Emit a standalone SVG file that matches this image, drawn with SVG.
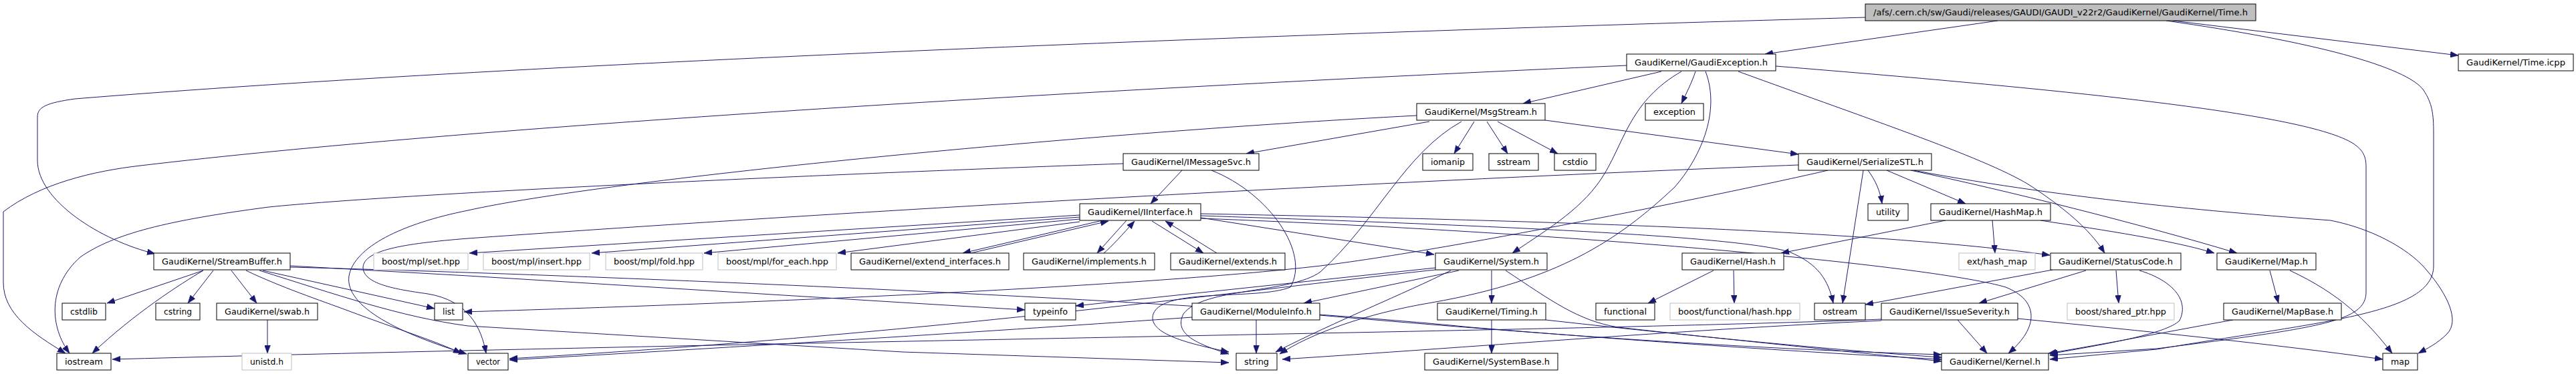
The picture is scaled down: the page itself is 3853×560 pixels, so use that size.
<svg xmlns="http://www.w3.org/2000/svg" width="3853" height="560" viewBox="0 0 3853 560">
<style>
.n rect{fill:#fff;stroke:#000;stroke-width:1}
.n.g rect{stroke:#bfbfbf}
.n.root rect{fill:#bfbfbf}
text{font-family:"DejaVu Sans","Liberation Sans",sans-serif;font-size:13px;fill:#000;text-anchor:middle}
#edges path{fill:none;stroke:#191970;stroke-width:1;marker-end:url(#a)}
</style>
<defs>
<marker id="a" markerWidth="12" markerHeight="9" refX="12" refY="4.5" orient="auto" markerUnits="userSpaceOnUse"><path d="M0,0L12,4.5L0,9z" fill="#191970" stroke="#191970" stroke-width="0.5"/></marker>
</defs>
<rect width="3853" height="560" fill="#fff"/>
<g id="edges">
<path d="M2988,31L2640,81"/>
<path d="M3250,31L3677,83"/>
<path d="M3240,31C3460,62 3600,100 3625,135C3638,155 3640,170 3640,200L3640,398C3640,470 3480,480 3226,523L3066,538"/>
<path d="M2790,26C2000,48 800,92 112,148C70,154 56,160 56,175L56,240C56,300 150,360 232,380"/>
<path d="M2433,98C1600,135 700,190 210,248C140,256 60,275 5,317L5,423C5,470 50,500 98,529"/>
<path d="M2485,107L2278,155"/>
<path d="M2536,107C2530,125 2522,140 2515,155"/>
<path d="M2515,107C2440,150 2430,210 2400,260C2370,310 2320,340 2262,379"/>
<path d="M2551,107C2575,170 2540,240 2505,280C2420,360 2330,420 2142,453C2040,470 1960,500 1914,530"/>
<path d="M2600,107C2800,180 2980,240 3040,280C3100,320 3130,350 3148,379"/>
<path d="M2656,99C3100,135 3450,170 3520,215C3535,225 3539,235 3539,250L3539,437C3539,480 3480,490 3226,522L3066,532"/>
<path d="M2138,182L1864,230"/>
<path d="M2311,180L2690,231"/>
<path d="M2205,182L2175,230"/>
<path d="M2224,182L2255,230"/>
<path d="M2240,182L2330,230"/>
<path d="M2186,182C2100,230 2060,330 1975,407C1930,440 1800,430 1770,470C1755,500 1790,515 1838,530"/>
<path d="M2119,173C1600,200 900,270 700,315C600,335 530,370 522,413C515,460 600,500 698,530"/>
<path d="M1768,255L1721,305"/>
<path d="M1680,245C1200,262 600,290 402,310C250,330 170,350 120,385C70,430 75,490 104,529"/>
<path d="M1812,255C1900,290 1960,380 1930,430C1880,450 1740,430 1725,470C1715,500 1780,515 1838,527"/>
<path d="M1615,322L702,379"/>
<path d="M1615,325L885,379"/>
<path d="M1615,328L1053,379"/>
<path d="M1615,332L1253,379"/>
<path d="M1649,330L1440,379"/>
<path d="M1452,379L1658,331"/>
<path d="M1685,330L1641,379"/>
<path d="M1651,379C1662,370 1680,350 1697,331"/>
<path d="M1723,331L1800,379"/>
<path d="M1820,379L1743,331"/>
<path d="M1796,326L2145,381"/>
<path d="M1796,320C2300,330 2800,345 3066,382"/>
<path d="M1796,323C2300,340 2600,355 2676,377C2720,395 2735,420 2742,454"/>
<path d="M1796,327C2400,350 2900,400 3000,430C3050,450 3050,490 3004,529"/>
<path d="M304,405L160,454"/>
<path d="M304,405C270,425 200,470 138,529"/>
<path d="M319,405L281,454"/>
<path d="M346,405L384,454"/>
<path d="M393,405L650,462"/>
<path d="M368,405C420,430 480,450 520,465C600,495 650,510 690,529"/>
<path d="M388,405C500,440 600,475 700,488L1350,527L1838,543"/>
<path d="M434,398L700,413L1350,453L1533,464"/>
<path d="M434,400C900,412 1800,450 2200,490C2500,515 2750,530 2904,538"/>
<path d="M400,479L400,529"/>
<path d="M2231,405L2231,454"/>
<path d="M2252,405C2320,450 2360,480 2420,490C2600,510 2800,530 2904,541"/>
<path d="M2170,405C2100,440 2000,480 1908,527"/>
<path d="M2147,401L1609,458"/>
<path d="M2147,404C1900,430 1400,500 762,537"/>
<path d="M2182,405L1950,454"/>
<path d="M2231,479L2231,529"/>
<path d="M2312,479C2500,500 2750,525 2904,535"/>
<path d="M1879,479L1879,529"/>
<path d="M1783,475C1500,495 1100,520 762,539"/>
<path d="M1974,472C2300,500 2600,522 2904,531"/>
<path d="M2787,255L2756,454"/>
<path d="M2794,255C2805,270 2812,285 2815,305"/>
<path d="M2822,255L2940,305"/>
<path d="M2858,255C3000,285 3200,335 3346,379"/>
<path d="M2862,255C3100,300 3350,320 3486,330C3560,345 3610,380 3630,405C3660,440 3680,480 3660,500C3645,515 3630,522 3617,529"/>
<path d="M2734,255C2650,275 2200,370 1975,398C1700,430 1100,455 694,467"/>
<path d="M2690,247C2300,262 1500,300 700,357C600,365 545,375 543,400C543,425 590,433 640,440C700,450 720,490 727,529"/>
<path d="M3052,330C3150,345 3250,360 3312,379"/>
<path d="M2910,330L2664,379"/>
<path d="M2980,330L2984,379"/>
<path d="M2563,405L2465,454"/>
<path d="M2593,405L2594,454"/>
<path d="M3070,404L2790,456"/>
<path d="M3120,405L2960,454"/>
<path d="M3165,405L3169,454"/>
<path d="M3200,405C3250,420 3275,450 3260,480C3240,500 3150,515 3066,530"/>
<path d="M2928,479L2972,529"/>
<path d="M2814,478C2400,495 1200,510 168,538"/>
<path d="M2814,480C2500,495 2200,520 1918,538"/>
<path d="M3018,477C3200,495 3400,515 3564,538"/>
<path d="M3395,405L3408,454"/>
<path d="M3425,405C3500,440 3540,480 3578,529"/>
<path d="M3340,479C3250,495 3150,515 3064,529"/>
</g>
<g id="n0" class="n root"><rect x="2790" y="6" width="584" height="25"/><text x="3082" y="23" textLength="560" lengthAdjust="spacingAndGlyphs">/afs/.cern.ch/sw/Gaudi/releases/GAUDI/GAUDI_v22r2/GaudiKernel/GaudiKernel/Time.h</text></g>
<g id="n1" class="n"><rect x="2433" y="81" width="223" height="25"/><text x="2544.5" y="98" textLength="199" lengthAdjust="spacingAndGlyphs">GaudiKernel/GaudiException.h</text></g>
<g id="n2" class="n"><rect x="3677" y="81" width="172" height="25"/><text x="3763" y="98" textLength="148" lengthAdjust="spacingAndGlyphs">GaudiKernel/Time.icpp</text></g>
<g id="n3" class="n"><rect x="2119" y="155" width="192" height="25"/><text x="2215" y="172" textLength="168" lengthAdjust="spacingAndGlyphs">GaudiKernel/MsgStream.h</text></g>
<g id="n4" class="n"><rect x="2461" y="155" width="87" height="25"/><text x="2504.5" y="172" textLength="63" lengthAdjust="spacingAndGlyphs">exception</text></g>
<g id="n5" class="n"><rect x="1680" y="230" width="203" height="25"/><text x="1781.5" y="247" textLength="179" lengthAdjust="spacingAndGlyphs">GaudiKernel/IMessageSvc.h</text></g>
<g id="n6" class="n"><rect x="2128" y="230" width="75" height="25"/><text x="2165.5" y="247" textLength="51" lengthAdjust="spacingAndGlyphs">iomanip</text></g>
<g id="n7" class="n"><rect x="2227" y="230" width="74" height="25"/><text x="2264" y="247" textLength="50" lengthAdjust="spacingAndGlyphs">sstream</text></g>
<g id="n8" class="n"><rect x="2325" y="230" width="62" height="25"/><text x="2356" y="247" textLength="38" lengthAdjust="spacingAndGlyphs">cstdio</text></g>
<g id="n9" class="n"><rect x="2690" y="230" width="199" height="25"/><text x="2789.5" y="247" textLength="175" lengthAdjust="spacingAndGlyphs">GaudiKernel/SerializeSTL.h</text></g>
<g id="n10" class="n"><rect x="1615" y="305" width="181" height="25"/><text x="1705.5" y="322" textLength="157" lengthAdjust="spacingAndGlyphs">GaudiKernel/IInterface.h</text></g>
<g id="n11" class="n"><rect x="2794" y="305" width="60" height="25"/><text x="2824" y="322" textLength="36" lengthAdjust="spacingAndGlyphs">utility</text></g>
<g id="n12" class="n"><rect x="2888" y="305" width="179" height="25"/><text x="2977.5" y="322" textLength="155" lengthAdjust="spacingAndGlyphs">GaudiKernel/HashMap.h</text></g>
<g id="n13" class="n"><rect x="230" y="379" width="204" height="25"/><text x="332" y="396" textLength="180" lengthAdjust="spacingAndGlyphs">GaudiKernel/StreamBuffer.h</text></g>
<g id="n14" class="n g"><rect x="559" y="379" width="141" height="25"/><text x="629.5" y="396" textLength="117" lengthAdjust="spacingAndGlyphs">boost/mpl/set.hpp</text></g>
<g id="n15" class="n g"><rect x="723" y="379" width="159" height="25"/><text x="802.5" y="396" textLength="135" lengthAdjust="spacingAndGlyphs">boost/mpl/insert.hpp</text></g>
<g id="n16" class="n g"><rect x="906" y="379" width="145" height="25"/><text x="978.5" y="396" textLength="121" lengthAdjust="spacingAndGlyphs">boost/mpl/fold.hpp</text></g>
<g id="n17" class="n g"><rect x="1074" y="379" width="177" height="25"/><text x="1162.5" y="396" textLength="153" lengthAdjust="spacingAndGlyphs">boost/mpl/for_each.hpp</text></g>
<g id="n18" class="n"><rect x="1273" y="379" width="236" height="25"/><text x="1391" y="396" textLength="212" lengthAdjust="spacingAndGlyphs">GaudiKernel/extend_interfaces.h</text></g>
<g id="n19" class="n"><rect x="1531" y="379" width="196" height="25"/><text x="1629" y="396" textLength="172" lengthAdjust="spacingAndGlyphs">GaudiKernel/implements.h</text></g>
<g id="n20" class="n"><rect x="1751" y="379" width="171" height="25"/><text x="1836.5" y="396" textLength="147" lengthAdjust="spacingAndGlyphs">GaudiKernel/extends.h</text></g>
<g id="n21" class="n"><rect x="2147" y="379" width="167" height="25"/><text x="2230.5" y="396" textLength="143" lengthAdjust="spacingAndGlyphs">GaudiKernel/System.h</text></g>
<g id="n22" class="n"><rect x="2516" y="379" width="152" height="25"/><text x="2592" y="396" textLength="128" lengthAdjust="spacingAndGlyphs">GaudiKernel/Hash.h</text></g>
<g id="n23" class="n g"><rect x="2930" y="379" width="114" height="25"/><text x="2987" y="396" textLength="90" lengthAdjust="spacingAndGlyphs">ext/hash_map</text></g>
<g id="n24" class="n"><rect x="3067" y="379" width="195" height="25"/><text x="3164.5" y="396" textLength="171" lengthAdjust="spacingAndGlyphs">GaudiKernel/StatusCode.h</text></g>
<g id="n25" class="n"><rect x="3316" y="379" width="148" height="25"/><text x="3390" y="396" textLength="124" lengthAdjust="spacingAndGlyphs">GaudiKernel/Map.h</text></g>
<g id="n26" class="n"><rect x="93" y="454" width="65" height="25"/><text x="125.5" y="471" textLength="41" lengthAdjust="spacingAndGlyphs">cstdlib</text></g>
<g id="n27" class="n"><rect x="233" y="454" width="66" height="25"/><text x="266" y="471" textLength="42" lengthAdjust="spacingAndGlyphs">cstring</text></g>
<g id="n28" class="n"><rect x="324" y="454" width="151" height="25"/><text x="399.5" y="471" textLength="127" lengthAdjust="spacingAndGlyphs">GaudiKernel/swab.h</text></g>
<g id="n29" class="n"><rect x="650" y="454" width="42" height="25"/><text x="671" y="471" textLength="18" lengthAdjust="spacingAndGlyphs">list</text></g>
<g id="n30" class="n"><rect x="1533" y="454" width="76" height="25"/><text x="1571" y="471" textLength="52" lengthAdjust="spacingAndGlyphs">typeinfo</text></g>
<g id="n31" class="n"><rect x="1783" y="454" width="191" height="25"/><text x="1878.5" y="471" textLength="167" lengthAdjust="spacingAndGlyphs">GaudiKernel/ModuleInfo.h</text></g>
<g id="n32" class="n"><rect x="2150" y="454" width="162" height="25"/><text x="2231" y="471" textLength="138" lengthAdjust="spacingAndGlyphs">GaudiKernel/Timing.h</text></g>
<g id="n33" class="n"><rect x="2387" y="454" width="88" height="25"/><text x="2431" y="471" textLength="64" lengthAdjust="spacingAndGlyphs">functional</text></g>
<g id="n34" class="n g"><rect x="2498" y="454" width="194" height="25"/><text x="2595" y="471" textLength="170" lengthAdjust="spacingAndGlyphs">boost/functional/hash.hpp</text></g>
<g id="n35" class="n"><rect x="2714" y="454" width="76" height="25"/><text x="2752" y="471" textLength="52" lengthAdjust="spacingAndGlyphs">ostream</text></g>
<g id="n36" class="n"><rect x="2814" y="454" width="204" height="25"/><text x="2916" y="471" textLength="180" lengthAdjust="spacingAndGlyphs">GaudiKernel/IssueSeverity.h</text></g>
<g id="n37" class="n g"><rect x="3092" y="454" width="160" height="25"/><text x="3172" y="471" textLength="136" lengthAdjust="spacingAndGlyphs">boost/shared_ptr.hpp</text></g>
<g id="n38" class="n"><rect x="3326" y="454" width="176" height="25"/><text x="3414" y="471" textLength="152" lengthAdjust="spacingAndGlyphs">GaudiKernel/MapBase.h</text></g>
<g id="n39" class="n"><rect x="85" y="529" width="81" height="25"/><text x="125.5" y="546" textLength="57" lengthAdjust="spacingAndGlyphs">iostream</text></g>
<g id="n40" class="n g"><rect x="362" y="529" width="74" height="25"/><text x="399" y="546" textLength="50" lengthAdjust="spacingAndGlyphs">unistd.h</text></g>
<g id="n41" class="n"><rect x="700" y="529" width="60" height="25"/><text x="730" y="546" textLength="36" lengthAdjust="spacingAndGlyphs">vector</text></g>
<g id="n42" class="n"><rect x="1849" y="529" width="61" height="25"/><text x="1879.5" y="546" textLength="37" lengthAdjust="spacingAndGlyphs">string</text></g>
<g id="n43" class="n"><rect x="2131" y="529" width="199" height="25"/><text x="2230.5" y="546" textLength="175" lengthAdjust="spacingAndGlyphs">GaudiKernel/SystemBase.h</text></g>
<g id="n44" class="n"><rect x="2904" y="529" width="160" height="25"/><text x="2984" y="546" textLength="136" lengthAdjust="spacingAndGlyphs">GaudiKernel/Kernel.h</text></g>
<g id="n45" class="n"><rect x="3564" y="529" width="52" height="25"/><text x="3590" y="546" textLength="28" lengthAdjust="spacingAndGlyphs">map</text></g>
</svg>
